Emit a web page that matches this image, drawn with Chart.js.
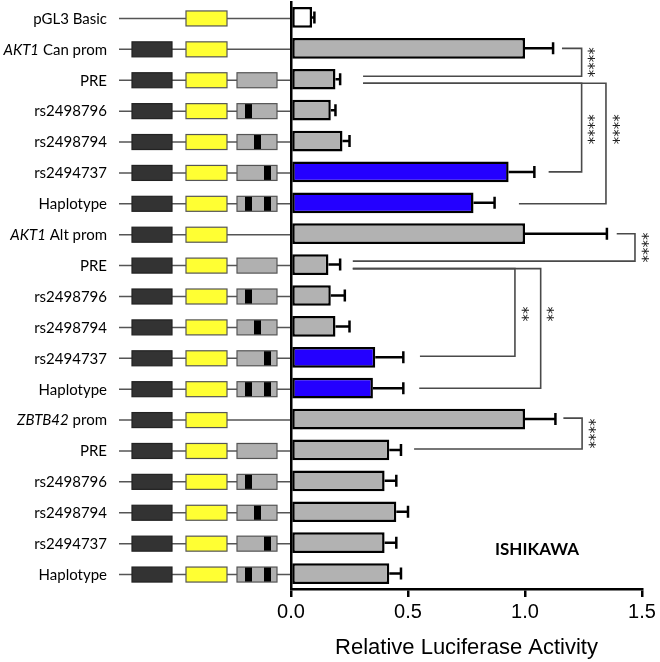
<!DOCTYPE html>
<html>
<head>
<meta charset="utf-8">
<script src="https://cdn.jsdelivr.net/npm/chart.js@4.4.1/dist/chart.umd.min.js"></script>
<style>html,body{margin:0;padding:0;background:#fff}</style>
</head>
<body>
<canvas id="chart" width="660" height="662"></canvas>
<script>
const labels = ['pGL3 Basic', 'AKT1 Can prom', 'PRE', 'rs2498796', 'rs2498794', 'rs2494737', 'Haplotype',
  'AKT1 Alt prom', 'PRE', 'rs2498796', 'rs2498794', 'rs2494737', 'Haplotype',
  'ZBTB42 prom', 'PRE', 'rs2498796', 'rs2498794', 'rs2494737', 'Haplotype'];
const values = [0.09, 1.0, 0.19, 0.17, 0.22, 0.93, 0.78,
  1.0, 0.16, 0.17, 0.19, 0.36, 0.35,
  1.0, 0.42, 0.40, 0.45, 0.40, 0.42];
const errors = [0.01, 0.12, 0.02, 0.02, 0.03, 0.11, 0.09,
  0.35, 0.05, 0.06, 0.06, 0.12, 0.13,
  0.13, 0.05, 0.05, 0.05, 0.05, 0.05];
// what the reporter construct holds: promoter, PRE, and which SNP is in the PRE
const constructs = ['basic', 'prom', 'pre', 'rs2498796', 'rs2498794', 'rs2494737', 'hap',
  'prom', 'pre', 'rs2498796', 'rs2498794', 'rs2494737', 'hap',
  'prom', 'pre', 'rs2498796', 'rs2498794', 'rs2494737', 'hap'];
const genes = ['AKT1', 'ZBTB42'];
const xTicks = [0, 0.5, 1.0, 1.5];

const GRAY = '#b2b2b2', BLUE = '#2400ff';
const barColors = labels.map((l, i) => i === 0 ? '#ffffff' : (i < 13 && (i % 6 === 5 || i % 6 === 0) ? BLUE : GRAY));

// significance brackets (rows by index, x in axis units)
const brackets = [
  {top: 1, topOff: 0, topEnd: 1.158, bot: 2, botOff: -3, botEnd: 0.308, x: 1.242, stars: 4, starRow: 1.45},
  {top: 2, topOff: 4, topEnd: 0.308, bot: 6, botOff: 1, botEnd: 0.974, x: 1.346, stars: 4, starRow: 3.62},
  {top: 2, topOff: 4, topEnd: 0.308, bot: 5, botOff: 0, botEnd: 1.101, x: 1.242, stars: 4, starRow: 3.62},
  {top: 7, topOff: 0, topEnd: 1.392, bot: 8, botOff: -3.5, botEnd: 0.264, x: 1.47, stars: 4, starRow: 7.45},
  {top: 8, topOff: 4, topEnd: 0.264, bot: 12, botOff: 0, botEnd: 0.548, x: 1.067, stars: 2, starRow: 9.6},
  {top: 8, topOff: 4, topEnd: 0.264, bot: 11, botOff: -1, botEnd: 0.551, x: 0.957, stars: 2, starRow: 9.6},
  {top: 13, topOff: -1, topEnd: 1.164, bot: 14, botOff: -1, botEnd: 0.526, x: 1.244, stars: 4, starRow: 13.47}
];

const LABEL_FONT = '15px Lato';
const LABEL_ITALIC = 'italic 15px Lato';

const decorations = {
  id: 'decorations',
  afterDraw(chart) {
    const ctx = chart.ctx, xs = chart.scales.x, ys = chart.scales.y;
    ctx.save();

    // row labels, gene names in italics
    ctx.textBaseline = 'middle';
    ctx.fillStyle = '#000';
    labels.forEach((lab, i) => {
      const y = ys.getPixelForValue(i) + 1.5;
      const first = lab.split(' ')[0];
      let ital = '', rest = lab;
      if (genes.includes(first)) { ital = first; rest = lab.slice(first.length); }
      ctx.font = LABEL_FONT;
      const wr = ctx.measureText(rest).width;
      ctx.font = LABEL_ITALIC;
      const wi = ital ? ctx.measureText(ital).width : 0;
      const right = 107;
      ctx.textAlign = 'left';
      if (ital) { ctx.font = LABEL_ITALIC; ctx.fillText(ital, right - wr - wi, y); }
      ctx.font = LABEL_FONT;
      ctx.fillText(rest, right - wr, y);
    });

    // construct diagrams
    const box = (x0, x1, y, fill, stroke) => {
      ctx.fillStyle = fill;
      ctx.fillRect(x0, y - 7.5, x1 - x0, 15);
      ctx.strokeStyle = stroke;
      ctx.lineWidth = 1.2;
      ctx.strokeRect(x0, y - 7.5, x1 - x0, 15);
    };
    const marks = {rs2498796: [245], rs2498794: [254], rs2494737: [264], hap: [245, 264]};
    constructs.forEach((c, i) => {
      const y = ys.getPixelForValue(i) + 1;
      ctx.strokeStyle = '#555';
      ctx.lineWidth = 1.5;
      ctx.beginPath(); ctx.moveTo(119, y); ctx.lineTo(290, y); ctx.stroke();
      if (c !== 'basic') box(132, 172, y, '#333333', '#222');
      box(186, 227, y, '#ffff33', '#555');
      if (c !== 'basic' && c !== 'prom') {
        box(237, 277, y, '#b0b0b0', '#555');
        (marks[c] || []).forEach(mx => { ctx.fillStyle = '#000'; ctx.fillRect(mx, y - 7, 7, 14); });
      }
    });

    // error bars (upper only)
    ctx.strokeStyle = '#000';
    ctx.lineWidth = 2.5;
    values.forEach((v, i) => {
      const y = ys.getPixelForValue(i);
      const x0 = xs.getPixelForValue(v), x1 = xs.getPixelForValue(v + errors[i]);
      ctx.beginPath();
      ctx.moveTo(x0, y); ctx.lineTo(x1, y);
      ctx.moveTo(x1, y - 6); ctx.lineTo(x1, y + 6);
      ctx.stroke();
    });

    // significance brackets
    ctx.strokeStyle = '#4a4a4a';
    ctx.lineWidth = 1.6;
    ctx.fillStyle = '#222';
    ctx.font = '15px "DejaVu Sans"';
    ctx.textAlign = 'center';
    ctx.textBaseline = 'middle';
    brackets.forEach(b => {
      const yt = ys.getPixelForValue(b.top) + b.topOff;
      const yb = ys.getPixelForValue(b.bot) + b.botOff;
      const xv = xs.getPixelForValue(b.x);
      ctx.beginPath();
      ctx.moveTo(xs.getPixelForValue(b.topEnd), yt);
      ctx.lineTo(xv, yt); ctx.lineTo(xv, yb);
      ctx.lineTo(xs.getPixelForValue(b.botEnd), yb);
      ctx.stroke();
      const yc = ys.getPixelForValue(b.starRow);
      for (let k = 0; k < b.stars; k++) {
        ctx.save();
        ctx.translate(xv + 8.5, yc + (k - (b.stars - 1) / 2) * 7.5);
        ctx.rotate(Math.PI / 2);
        ctx.fillText('*', 0, 3);
        ctx.restore();
      }
    });

    // cell line tag
    ctx.fillStyle = '#000';
    ctx.font = 'bold 17px Lato';
    ctx.textAlign = 'center';
    ctx.textBaseline = 'middle';
    ctx.fillText('ISHIKAWA', 537, 550);
    ctx.restore();
  }
};

new Chart(document.getElementById('chart'), {
  type: 'bar',
  data: {
    labels,
    datasets: [{
      data: values,
      backgroundColor: barColors,
      borderColor: '#000',
      borderWidth: 2.5,
      borderSkipped: false,
      categoryPercentage: 1,
      barPercentage: 0.67
    }]
  },
  options: {
    indexAxis: 'y',
    responsive: false,
    animation: false,
    layout: { padding: { top: 2, right: 18, left: 0, bottom: 0 } },
    plugins: { legend: { display: false }, tooltip: { enabled: false } },
    scales: {
      y: {
        afterFit: s => { s.width = 291; },
        ticks: { display: false },
        grid: { display: false },
        border: { color: '#000', width: 2.5 }
      },
      x: {
        min: 0, max: 1.5,
        afterFit: s => { s.height = 73; },
        afterBuildTicks: s => { s.ticks = xTicks.map(v => ({ value: v })); },
        ticks: { callback: v => v.toFixed(1), color: '#000', font: { family: '"Liberation Sans"', size: 20 }, padding: 3, maxRotation: 0 },
        grid: { drawOnChartArea: false, tickLength: 8, color: '#000', lineWidth: 2.5 },
        border: { color: '#000', width: 2.5 },
        title: { display: true, text: 'Relative Luciferase Activity', color: '#000', font: { family: '"Liberation Sans"', size: 22 }, padding: { top: 4, bottom: 1 } }
      }
    }
  },
  plugins: [decorations]
});
</script>
</body>
</html>
